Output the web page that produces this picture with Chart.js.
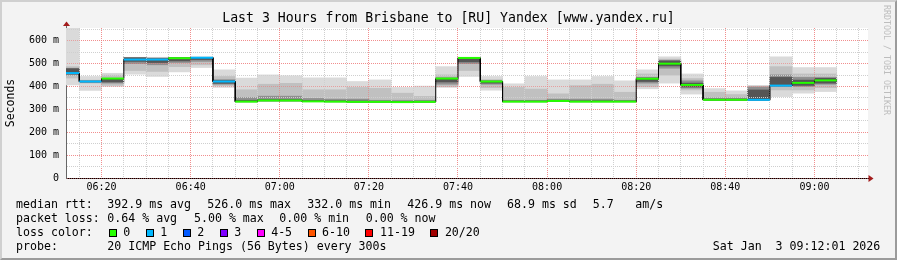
<!DOCTYPE html>
<html>
<head>
<meta charset="utf-8">
<script src="https://cdn.jsdelivr.net/npm/chart.js@4.4.1/dist/chart.umd.min.js"></script>
<style>
  html, body { margin: 0; padding: 0; background: #fff; }
  #frame { position: relative; width: 897px; height: 260px; background: #f3f3f3; overflow: hidden;
    font-family: 'DejaVu Sans Mono', monospace; color: #000; }
  #chart { position: absolute; left: 0; top: 0; }
  #shade { position: absolute; inset: 0; box-sizing: border-box; border: 2px solid;
    border-color: #d0d0d0 #9b9b9b #9b9b9b #d0d0d0; pointer-events: none; }
  .row { position: absolute; left: 0; width: 897px; height: 14px; font-size: 11.6px; line-height: 14px; white-space: pre; }
  .row span { position: absolute; top: 0; }
  #losses { position: absolute; left: 108.7px; top: 0; display: flex; align-items: flex-start; }
  #losses i { display: block; width: 8px; height: 8px; box-sizing: border-box; border: 1px solid #000; margin: 3.4px 6.6px 0 0; }
  #losses b { font-weight: normal; margin-right: 15.4px; line-height: 14px; }
  #mark { position: absolute; left: 882px; top: 5px; writing-mode: vertical-rl; font-size: 8.3px; line-height: 9px;
    color: #bdbdbd; white-space: pre; }
</style>
</head>
<body>
<div id="frame">
  <canvas id="chart" width="897" height="260"></canvas>
  <div class="row" style="top:197.3px">
    <span style="left:16px">median rtt:</span>
    <span style="left:107.3px">392.9 ms avg</span>
    <span style="left:207.3px">526.0 ms max</span>
    <span style="left:307.3px">332.0 ms min</span>
    <span style="left:407.3px">426.9 ms now</span>
    <span style="left:507px">68.9 ms sd</span>
    <span style="left:592.7px">5.7</span>
    <span style="left:635.3px">am/s</span>
  </div>
  <div class="row" style="top:211.3px">
    <span style="left:16px">packet loss:</span>
    <span style="left:107.3px">0.64 % avg</span>
    <span style="left:194px">5.00 % max</span>
    <span style="left:279.3px">0.00 % min</span>
    <span style="left:365.7px">0.00 % now</span>
  </div>
  <div class="row" style="top:225.3px">
    <span style="left:16px">loss color:</span>
    <div id="losses"></div>
  </div>
  <div class="row" style="top:239.3px">
    <span style="left:16px">probe:</span>
    <span style="left:107.3px">20 ICMP Echo Pings (56 Bytes) every 300s</span>
    <span style="right:16.7px">Sat Jan  3 09:12:01 2026</span>
  </div>
  <div id="mark">RRDTOOL / TOBI OETIKER</div>
  <div id="shade"></div>
</div>
<script>
// end of each 5 minute step
const times = ['06:15', '06:20', '06:25', '06:30', '06:35', '06:40', '06:45', '06:50', '06:55',
    '07:00', '07:05', '07:10', '07:15', '07:20', '07:25', '07:30', '07:35', '07:40', '07:45',
    '07:50', '07:55', '08:00', '08:05', '08:10', '08:15', '08:20', '08:25', '08:30', '08:35',
    '08:40', '08:45', '08:50', '08:55', '09:00', '09:05'];

// median rtt in ms
const medianRtt = [459, 422, 435, 518, 518, 524, 526, 422, 334, 339, 339, 335, 334, 333, 333,
    332, 333, 435, 525, 422, 334, 334, 337, 334, 334, 334, 434, 500, 407, 342, 342, 342, 404, 416, 427];

// lost pings out of 20
const lossCount = [1, 1, 0, 1, 1, 0, 1, 1, 0, 0, 0, 0, 0, 0, 0, 0, 0, 0, 0, 0,
    0, 0, 0, 0, 0, 0, 0, 0, 0, 0, 0, 1, 1, 0, 0];

// smoke: spread of the 20 pings (ms), outer to inner
const smokeMin = [407, 383, 400, 454, 444, 464, 483, 396, 334, 339, 339, 335, 334, 333, 333,
    332, 333, 396, 444, 384, 334, 334, 337, 334, 334, 334, 390, 415, 367, 341, 341, 341, 356, 371, 378];
const smokeMax = [655, 444, 458, 528, 528, 527, 530, 473, 437, 451, 447, 438, 438, 422, 429,
    396, 402, 487, 528, 444, 412, 444, 429, 429, 444, 425, 473, 530, 455, 391, 381, 403, 530, 483, 483];
const smokeLow = [437, 415, 405, 470, 466, 487, 495, 404, 334, 337, 337, 335, 334, 333, 333,
    332, 333, 400, 470, 395, 334, 334, 337, 334, 334, 334, 400, 450, 385, 341, 341, 341, 385, 385, 395];
const smokeHigh = [487, 428, 450, 526, 526, 526, 528, 444, 386, 410, 414, 386, 386, 396, 392,
    371, 357, 451, 526, 430, 396, 389, 368, 404, 410, 375, 455, 520, 435, 375, 365, 403, 487, 455, 455];
const coreLow = [450, 418, 415, 500, 495, 505, 510, 410, 334, 337, 337, 335, 334, 333, 333,
    332, 333, 410, 500, 410, 334, 334, 337, 334, 334, 334, 415, 480, 393, 341, 341, 341, 400, 400, 410];
const coreHigh = [480, 425, 432, 526, 524, 525, 527, 430, 352, 358, 358, 348, 345, 345, 340,
    340, 340, 437, 525, 425, 340, 340, 345, 345, 345, 340, 440, 515, 425, 350, 350, 398, 451, 440, 440];
const darkLow = [455, 420, 420, 510, 505, 512, 518, 414, 334, 337, 337, 335, 334, 333, 333,
    332, 333, 420, 508, 415, 334, 334, 337, 334, 334, 334, 422, 490, 398, 341, 341, 341, 405, 405, 415];
const darkHigh = [478, 424, 432, 526, 522, 525, 527, 426, 340, 343, 343, 339, 338, 337, 336,
    335, 336, 437, 525, 424, 337, 337, 340, 338, 338, 337, 437, 512, 415, 345, 345, 385, 440, 428, 436];

const lossLabels = ['0', '1', '2', '3', '4-5', '6-10', '11-19', '20/20'];
const lossColors = ['#26ff00', '#00b8ff', '#0059ff', '#7e00ff', '#ff00ff', '#ff5500', '#ff0000', '#a10000'];

const xTickLabels = ['06:20', '06:40', '07:00', '07:20', '07:40', '08:00', '08:20', '08:40', '09:00'];
const yTickLabels = ['0', '100 m', '200 m', '300 m', '400 m', '500 m', '600 m'];

const MONO = 'DejaVu Sans Mono';
const STEP = 5;
const X_START = 12.02;   // 06:12:01
const X_END = 192.02;    // 09:12:01
const Y_MAX = 656;

const toMin = t => {
    const [h, m] = t.split(':').map(Number);
    return (h - 6) * 60 + m;
};

const lossColor = n => {
    if (n <= 3) return lossColors[n];
    if (n <= 5) return lossColors[4];
    if (n <= 10) return lossColors[5];
    if (n <= 19) return lossColors[6];
    return lossColors[7];
};

// legend boxes
const losses = document.getElementById('losses');
lossLabels.forEach((label, i) => {
    const sq = document.createElement('i');
    sq.style.background = lossColors[i];
    const txt = document.createElement('b');
    txt.textContent = label;
    losses.appendChild(sq);
    losses.appendChild(txt);
});

const centers = times.map(t => toMin(t) - STEP / 2);
const band = (lo, hi) => centers.map((x, i) => ({ x: x, y: [lo[i], hi[i]] }));

// median as horizontal runs: start and end of every step
const medianPoints = [];
times.forEach((t, i) => {
    medianPoints.push({ x: toMin(t) - STEP, y: medianRtt[i] });
    medianPoints.push({ x: toMin(t), y: medianRtt[i] });
});

const xTickMap = {};
xTickLabels.forEach(l => { xTickMap[toMin(l)] = l; });

const gridColor = (ctx, major) => {
    if (!ctx.tick) return '#d0d0d0';
    return ctx.tick.value % major === 0 ? 'rgba(238,120,120,0.6)' : '#cfcfcf';
};

const barDefaults = {
    type: 'bar',
    borderWidth: 0,
    barPercentage: 1,
    categoryPercentage: 1,
    grouped: false,
};

const plotFrame = {
    id: 'plotFrame',
    beforeDraw(chart) {
        const { ctx, chartArea: a } = chart;
        ctx.save();
        ctx.fillStyle = '#ffffff';
        ctx.fillRect(a.left, a.top, a.right - a.left, a.bottom - a.top);
        ctx.restore();
    },
    afterDatasetDraw(chart, args) {
        // rrdtool puts the grid on top of the smoke
        if (chart.data.datasets[args.index].label !== 'smoke dark') return;
        chart.scales.x.drawGrid(chart.chartArea);
        chart.scales.y.drawGrid(chart.chartArea);
    },
    afterDraw(chart) {
        const { ctx, chartArea: a } = chart;
        const ax = Math.round(a.left) + 0.5;
        const ay = Math.round(a.bottom) + 0.5;
        ctx.save();
        ctx.lineWidth = 1;
        ctx.strokeStyle = '#666';
        ctx.beginPath();
        ctx.moveTo(ax, a.top);
        ctx.lineTo(ax, a.top - 3);
        ctx.stroke();
        ctx.strokeStyle = '#000';
        ctx.beginPath();
        ctx.moveTo(a.right, ay);
        ctx.lineTo(a.right + 2, ay);
        ctx.stroke();
        ctx.fillStyle = '#a31c1c';
        ctx.beginPath();
        ctx.moveTo(ax, a.top - 6.5);
        ctx.lineTo(ax + 3.5, a.top - 2);
        ctx.lineTo(ax - 3.5, a.top - 2);
        ctx.closePath();
        ctx.fill();
        ctx.beginPath();
        ctx.moveTo(a.right + 5.5, ay);
        ctx.lineTo(a.right + 0.5, ay - 3.5);
        ctx.lineTo(a.right + 0.5, ay + 3.5);
        ctx.closePath();
        ctx.fill();
        ctx.restore();
    }
};

Chart.defaults.font.family = MONO;

new Chart(document.getElementById('chart'), {
    type: 'bar',
    data: {
        datasets: [
            { ...barDefaults, label: 'smoke outer', data: band(smokeMin, smokeMax), backgroundColor: '#dadada', order: 5 },
            { ...barDefaults, label: 'smoke mid', data: band(smokeLow, smokeHigh), backgroundColor: '#c0c0c0', order: 4 },
            { ...barDefaults, label: 'smoke core', data: band(coreLow, coreHigh), backgroundColor: '#8f8f8f', order: 3 },
            { ...barDefaults, label: 'smoke dark', data: band(darkLow, darkHigh), backgroundColor: '#555555', order: 2 },
            {
                type: 'line',
                label: 'median',
                data: medianPoints,
                borderColor: '#000',
                borderWidth: 1,
                pointRadius: 0,
                tension: 0,
                order: 1,
            },
            {
                type: 'line',
                label: 'median loss',
                data: medianPoints,
                borderWidth: 2,
                pointRadius: 0,
                tension: 0,
                order: 0,
                segment: {
                    borderColor: ctx => ctx.p0.parsed.x === ctx.p1.parsed.x
                        ? 'rgba(0,0,0,0)'
                        : lossColor(lossCount[ctx.p0DataIndex >> 1]),
                },
            },
        ]
    },
    options: {
        responsive: false,
        animation: false,
        events: [],
        layout: { padding: { left: 0, right: 0, top: 0, bottom: 60 } },
        plugins: {
            legend: { display: false },
            tooltip: { enabled: false },
            title: {
                display: true,
                text: 'Last 3 Hours from Brisbane to [RU] Yandex [www.yandex.ru]',
                color: '#000',
                font: { family: MONO, size: 13.2, weight: 'normal' },
                padding: { top: 11, bottom: 1.16 },
            },
        },
        scales: {
            x: {
                type: 'linear',
                min: X_START,
                max: X_END,
                offset: false,
                afterFit: scale => { scale.height = 22; },
                afterBuildTicks: axis => {
                    const ticks = [];
                    for (let v = 15; v <= 190; v += STEP) ticks.push({ value: v });
                    axis.ticks = ticks;
                },
                ticks: {
                    autoSkip: false,
                    maxRotation: 0,
                    padding: 3,
                    color: '#000',
                    font: { family: MONO, size: 10 },
                    callback: v => xTickMap[v] || '',
                },
                grid: { offset: false, drawTicks: false, color: ctx => gridColor(ctx, 20) },
                border: { color: '#000', dash: [1, 1] },
            },
            y: {
                min: 0,
                max: Y_MAX,
                afterFit: scale => { scale.width = 66; },
                afterBuildTicks: axis => {
                    const ticks = [];
                    for (let v = 0; v <= 650; v += 50) ticks.push({ value: v });
                    axis.ticks = ticks;
                },
                ticks: {
                    autoSkip: false,
                    padding: 7,
                    color: '#000',
                    font: { family: MONO, size: 10 },
                    callback: v => v % 100 === 0 ? yTickLabels[v / 100] : '',
                },
                grid: { drawTicks: false, color: ctx => gridColor(ctx, 100) },
                border: { color: '#666', dash: [1, 1] },
                title: {
                    display: true,
                    text: 'Seconds',
                    color: '#000',
                    font: { family: MONO, size: 11.5 },
                    padding: { top: 4, bottom: 0 },
                },
            },
            // empty right gutter, keeps the title centred on the whole image
            gutter: {
                position: 'right',
                afterFit: scale => { scale.width = 29; },
                ticks: { display: false },
                grid: { display: false },
                border: { display: false },
            },
        },
    },
    plugins: [plotFrame],
});
</script>
</body>
</html>
